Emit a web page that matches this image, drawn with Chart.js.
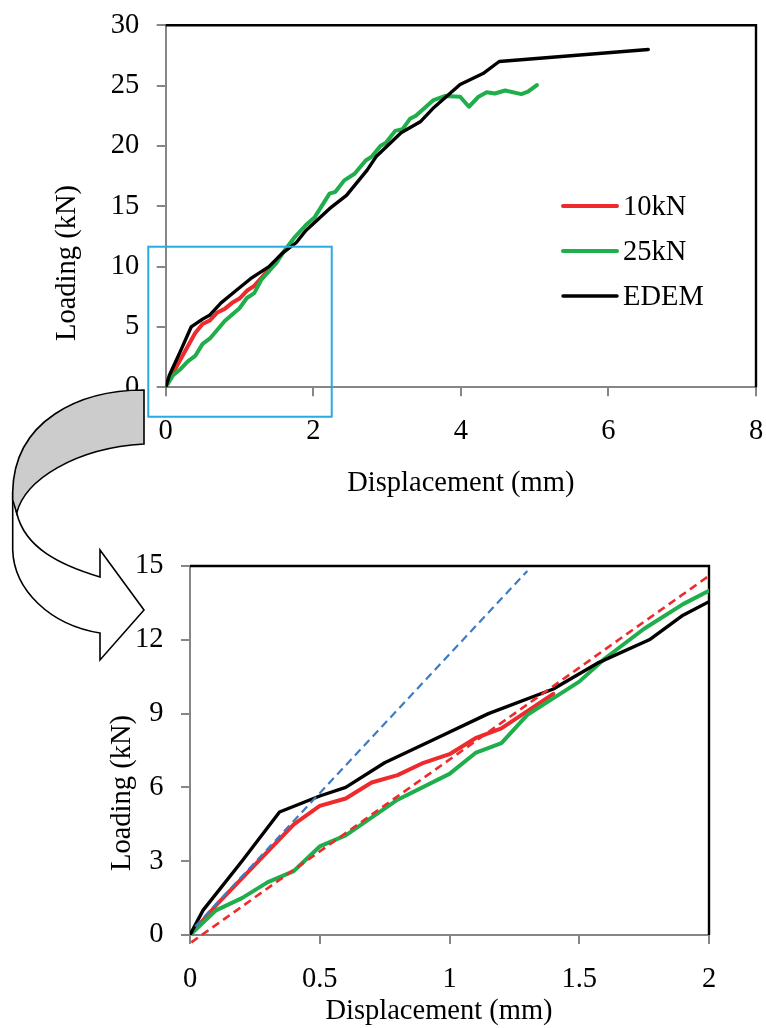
<!DOCTYPE html>
<html>
<head>
<meta charset="utf-8">
<script src="https://cdn.jsdelivr.net/npm/chart.js@4.4.1/dist/chart.umd.min.js"></script>
<style>
  html, body { margin: 0; padding: 0; background: #fff; }
  #wrap { position: relative; width: 766px; height: 1028px; overflow: hidden; }
  #wrap canvas { position: absolute; left: 0; }
  #overview { top: 0; }
  #detail { top: 520px; }
  #arrow { top: 0; pointer-events: none; }
</style>
</head>
<body>
<div id="wrap">
  <canvas id="overview" width="766" height="520"></canvas>
  <canvas id="detail" width="766" height="508"></canvas>
  <canvas id="arrow" width="766" height="1028"></canvas>
</div>
<script>
// Load–displacement curves: two lab tests (10 kN, 25 kN) and the EDEM simulation.
const kn10X = [0, 0.1, 0.2, 0.3, 0.4, 0.5, 0.6, 0.7, 0.8, 0.9, 1.0, 1.1, 1.2, 1.3, 1.4];
const kn10Y = [0, 1.2, 2.3, 3.4, 4.5, 5.25, 5.55, 6.2, 6.5, 7.0, 7.35, 8.0, 8.4, 9.1, 9.8];

const kn25X = [0, 0.1, 0.2, 0.3, 0.4, 0.5, 0.6, 0.8, 1.0, 1.1, 1.2, 1.3, 1.5, 1.6, 1.75, 1.9, 2.02,
  2.22, 2.3, 2.42, 2.56, 2.71, 2.79, 2.91, 2.99, 3.11, 3.21, 3.31, 3.39, 3.63, 3.79, 3.99, 4.11,
  4.24, 4.35, 4.46, 4.6, 4.82, 4.91, 5.03];
const kn25Y = [0, 1.0, 1.5, 2.15, 2.6, 3.6, 4.05, 5.5, 6.55, 7.4, 7.8, 8.95, 10.3, 11.25, 12.45, 13.45, 14.1,
  16.05, 16.2, 17.15, 17.7, 18.8, 19.1, 20.0, 20.3, 21.25, 21.4, 22.25, 22.5, 23.8, 24.15, 24.08, 23.25,
  24.08, 24.45, 24.35, 24.6, 24.3, 24.5, 25.05];

const edemX = [0, 0.05, 0.2, 0.345, 0.5, 0.6, 0.75, 0.95, 1.15, 1.4, 1.57, 1.77, 1.9, 2.0, 2.22, 2.45,
  2.73, 2.85, 3.19, 3.45, 3.62, 3.99, 4.3, 4.52, 6.54];
const edemY = [0, 1.0, 3.0, 5.0, 5.65, 6.0, 7.0, 8.0, 9.0, 10.0, 11.05, 12.0, 13.0, 13.55, 14.8, 15.9,
  18.0, 19.1, 21.1, 22.0, 23.1, 25.1, 26.0, 27.0, 28.0];

// Linear fits shown on the close-up only.
const fitSteepX = [0.02, 1.3];
const fitSteepY = [0.35, 14.8];
const fitShallowX = [0.005, 2.0];
const fitShallowY = [-0.3, 14.6];

// Region of the overview that the close-up enlarges: [xMin, xMax], [yMin, yMax].
const zoomBoxX = [-0.236, 2.25];
const zoomBoxY = [-2.44, 11.65];

const legendOrder = ["10kN", "25kN", "EDEM"];

const FONT = '"Liberation Serif", "Times New Roman", serif';
const FONT_SIZE = 28.5;
const AXIS_GREY = "#868686";
const RED = "#ee2a2d";
const GREEN = "#1fae4b";
const BLUE = "#3b7cc4";

const zip = (xs, ys) => xs.map((x, i) => ({x, y: ys[i]}));

const curve = (label, xs, ys, color, width, order) => ({
  label,
  data: zip(xs, ys),
  borderColor: color,
  backgroundColor: color,
  borderWidth: width,
  pointRadius: 0,
  tension: 0,
  fill: false,
  borderCapStyle: "round",
  borderJoinStyle: "round",
  order,
});

// Black frame on the top and right edges of the plot area (axes stay grey).
const plotFrame = {
  id: "plotFrame",
  beforeDatasetsDraw(chart) {
    const {ctx, chartArea: {left, top, right, bottom}} = chart;
    ctx.save();
    ctx.strokeStyle = "#000";
    ctx.lineWidth = 2.4;
    ctx.beginPath();
    ctx.moveTo(left, top);
    ctx.lineTo(right, top);
    ctx.lineTo(right, bottom);
    ctx.stroke();
    ctx.restore();
  },
};

// Axis captions placed at fixed canvas positions.
const axisCaptions = {
  id: "axisCaptions",
  afterDraw(chart, args, opts) {
    const {ctx} = chart;
    for (const c of opts.items || []) {
      ctx.save();
      ctx.font = `${FONT_SIZE}px ${FONT}`;
      ctx.fillStyle = "#000";
      ctx.textAlign = "center";
      ctx.textBaseline = "middle";
      ctx.translate(c.x, c.y);
      if (c.rotate) ctx.rotate(-Math.PI / 2);
      ctx.fillText(c.text, 0, 0);
      ctx.restore();
    }
  },
};

// Line-sample legend drawn inside the plot area.
const lineKey = {
  id: "lineKey",
  afterDraw(chart, args, opts) {
    if (!opts.display) return;
    const {ctx} = chart;
    const sets = legendOrder
      .map((name) => chart.data.datasets.find((d) => d.label === name))
      .filter(Boolean);
    sets.forEach((d, i) => {
      const y = opts.y + i * opts.gap;
      ctx.save();
      ctx.strokeStyle = d.borderColor;
      ctx.lineWidth = d.borderWidth;
      ctx.lineCap = "round";
      ctx.beginPath();
      ctx.moveTo(opts.x, y);
      ctx.lineTo(opts.x + opts.length, y);
      ctx.stroke();
      ctx.font = `${FONT_SIZE}px ${FONT}`;
      ctx.fillStyle = "#000";
      ctx.textAlign = "left";
      ctx.textBaseline = "middle";
      ctx.fillText(d.label, opts.x + opts.length + opts.textGap, y + 2);
      ctx.restore();
    });
  },
};

// Cyan outline marking the enlarged region.
const zoomBox = {
  id: "zoomBox",
  afterDatasetsDraw(chart, args, opts) {
    if (!opts.display) return;
    const {ctx, scales: {x, y}} = chart;
    const x0 = x.getPixelForValue(zoomBoxX[0]);
    const x1 = x.getPixelForValue(zoomBoxX[1]);
    const y0 = y.getPixelForValue(zoomBoxY[1]);
    const y1 = y.getPixelForValue(zoomBoxY[0]);
    ctx.save();
    ctx.strokeStyle = "#2aaae2";
    ctx.lineWidth = 2;
    ctx.strokeRect(x0, y0, x1 - x0, y1 - y0);
    ctx.restore();
  },
};

const tickFont = {family: FONT, size: FONT_SIZE, lineHeight: 1};

function axis({min, max, step, padding, fit}) {
  return {
    type: "linear",
    min,
    max,
    ticks: {
      stepSize: step,
      color: "#000",
      font: tickFont,
      padding,
      maxRotation: 0,
      autoSkip: false,
      callback: (v) => String(v),
    },
    grid: {display: true, drawOnChartArea: false, drawTicks: true, tickLength: 9, color: AXIS_GREY, lineWidth: 2},
    border: {display: true, color: AXIS_GREY, width: 2},
    title: {display: false},
    afterFit(s) {
      fit(s);
      // the layout paddings below already leave room for the edge labels
      s.paddingLeft = s.paddingRight = s.paddingTop = s.paddingBottom = 0;
    },
  };
}

function makeChart(canvas, {datasets, xAxis, yAxis, padding, captions, legend, box}) {
  return new Chart(canvas, {
    type: "line",
    data: {datasets},
    options: {
      responsive: false,
      devicePixelRatio: 1,
      animation: false,
      parsing: false,
      layout: {padding},
      scales: {x: xAxis, y: yAxis},
      plugins: {
        legend: {display: false},
        tooltip: {enabled: false},
        axisCaptions: {items: captions},
        lineKey: legend,
        zoomBox: {display: box},
      },
    },
    plugins: [plotFrame, axisCaptions, lineKey, zoomBox],
  });
}

// Overview: full test range.
makeChart(document.getElementById("overview"), {
  datasets: [
    curve("EDEM", edemX, edemY, "#000", 3.4, 1),
    curve("25kN", kn25X, kn25Y, GREEN, 4, 2),
    curve("10kN", kn10X, kn10Y, RED, 4, 3),
  ],
  xAxis: axis({min: 0, max: 8, step: 2, padding: 20.5, fit: (s) => { s.height = 520 - 387.3; }}),
  yAxis: axis({min: 0, max: 30, step: 5, padding: 17.5, fit: (s) => { s.width = 165.7; }}),
  padding: {left: 0, top: 25.3, right: 10, bottom: 0},
  captions: [
    {text: "Displacement (mm)", x: 460.8, y: 483.5},
    {text: "Loading (kN)", x: 67.5, y: 263, rotate: true},
  ],
  legend: {display: true, x: 563, y: 206, gap: 45, length: 54, textGap: 6},
  box: true,
});

// Close-up of the first 2 mm with the two linear fits.
const steep = curve("fit-steep", fitSteepX, fitSteepY, BLUE, 2.2, 0);
steep.borderDash = [8, 5];
steep.borderCapStyle = "butt";
const shallow = curve("fit-shallow", fitShallowX, fitShallowY, RED, 2.6, 0);
shallow.borderDash = [8, 5];
shallow.borderCapStyle = "butt";
shallow.clip = false;

makeChart(document.getElementById("detail"), {
  datasets: [
    steep,
    shallow,
    curve("EDEM", edemX, edemY, "#000", 3.4, 1),
    curve("25kN", kn25X, kn25Y, GREEN, 4, 2),
    curve("10kN", kn10X, kn10Y, RED, 4, 3),
  ],
  xAxis: axis({min: 0, max: 2, step: 0.5, padding: 21.5, fit: (s) => { s.height = 508 - 415; }}),
  yAxis: axis({min: 0, max: 15, step: 3, padding: 17.5, fit: (s) => { s.width = 190; }}),
  padding: {left: 0, top: 46, right: 57, bottom: 0},
  captions: [
    {text: "Displacement (mm)", x: 439, y: 492},
    {text: "Loading (kN)", x: 122.5, y: 273, rotate: true},
  ],
  legend: {display: false},
  box: false,
});

// Curved call-out arrow leading from the overview box down to the close-up.
(function drawArrow() {
  const ctx = document.getElementById("arrow").getContext("2d");
  ctx.lineWidth = 1.6;
  ctx.strokeStyle = "#000";
  ctx.lineJoin = "miter";

  // lower, white half of the band with the arrow head
  ctx.beginPath();
  ctx.moveTo(12.7, 492);
  ctx.lineTo(12.7, 550);
  ctx.bezierCurveTo(14, 590, 50, 625, 100, 633);
  ctx.lineTo(100, 660);
  ctx.lineTo(144, 610);
  ctx.lineTo(100, 550);
  ctx.lineTo(100, 577);
  ctx.bezierCurveTo(60, 565, 25, 548, 16.7, 513);
  ctx.closePath();
  ctx.fillStyle = "#fff";
  ctx.fill();
  ctx.stroke();

  // upper, grey half of the band
  ctx.beginPath();
  ctx.moveTo(144, 390);
  ctx.bezierCurveTo(80, 390, 14, 420, 12.7, 492);
  ctx.lineTo(12.7, 500);
  ctx.lineTo(16.7, 513);
  ctx.bezierCurveTo(25, 480, 75, 448, 144, 444);
  ctx.closePath();
  ctx.fillStyle = "#cccccc";
  ctx.fill();
  ctx.stroke();
})();
</script>
</body>
</html>
